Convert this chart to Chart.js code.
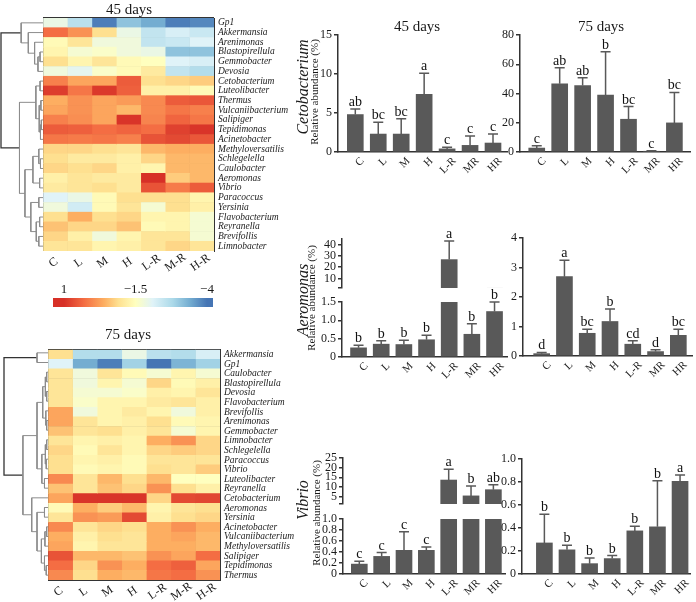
<!DOCTYPE html>
<html>
<head>
<meta charset="utf-8">
<script src="https://cdn.jsdelivr.net/npm/chart.js@4.4.1/dist/chart.umd.min.js"></script>
<style>
  body { margin: 0; background: #fff; }
  #wrap { position: relative; width: 696px; height: 602px; overflow: hidden; font-family: "Liberation Serif", "Times New Roman", serif; color: #1a1a1a; }
  #wrap canvas { position: absolute; }
  .t { position: absolute; white-space: nowrap; transform: translate(-50%, -50%); }
  .v { position: absolute; white-space: nowrap; transform: translate(-50%, -50%) rotate(-90deg); }
  .r { position: absolute; white-space: nowrap; line-height: 1; }
</style>
</head>
<body>
<div id="wrap"></div>
<script>
// ---- data ----
const heatCols = ['C', 'L', 'M', 'H', 'L-R', 'M-R', 'H-R'];

const taxa45 = ['Gp1', 'Akkermansia', 'Arenimonas', 'Blastopirellula', 'Gemmobacter', 'Devosia',
  'Cetobacterium', 'Luteolibacter', 'Thermus', 'Vulcaniibacterium', 'Salipiger', 'Tepidimonas',
  'Acinetobacter', 'Methyloversatilis', 'Schlegelella', 'Caulobacter', 'Aeromonas', 'Vibrio',
  'Paracoccus', 'Yersinia', 'Flavobacterium', 'Reyranella', 'Brevifollis', 'Limnobacter'];

const heat45 = [
  [-1.9, -2.6, -3.9, -3.1, -3.4, -3.9, -3.8],
  [0.3, -0.1, -0.9, -1.9, -2.5, -2.2, -2.4],
  [-1.4, -1.0, -1.8, -1.8, -2.5, -2.4, -2.1],
  [-1.3, -1.7, -1.6, -1.8, -1.9, -3.1, -3.1],
  [-0.9, -1.3, -1.0, -1.4, -1.5, -2.1, -2.2],
  [-1.8, -2.0, -1.6, -1.4, -1.1, -2.5, -2.7],
  [0.1, -0.3, -0.3, 0.5, -0.9, -0.8, -0.7],
  [0.85, 0.2, 0.9, 0.45, -1.2, -1.2, -1.4],
  [-0.4, -0.1, -0.3, -0.2, 0.0, 0.5, 0.55],
  [-0.3, -0.1, -0.3, -0.5, 0.0, 0.2, 0.1],
  [0.1, -0.05, -0.3, 0.95, 0.05, 0.4, 0.2],
  [0.5, 0.45, 0.3, 0.4, 0.3, 0.8, 0.95],
  [0.2, 0.15, 0.2, 0.1, 0.6, 0.7, 0.55],
  [-0.8, -0.8, -0.9, -1.0, -0.5, -0.4, -0.4],
  [-0.9, -1.1, -1.1, -1.2, -0.8, -0.5, -0.5],
  [-0.8, -0.9, -0.8, -1.2, -1.3, -0.5, -0.5],
  [-1.2, -1.0, -1.1, -1.1, 1.0, -0.7, -0.5],
  [-1.1, -1.0, -0.9, -1.1, 0.6, 0.15, 0.5],
  [-2.1, -1.9, -1.4, -0.9, -0.9, -0.9, -1.3],
  [-1.8, -2.3, -1.4, -1.0, -1.7, -0.9, -1.2],
  [-0.9, -0.4, -0.9, -0.8, -1.3, -1.3, -1.7],
  [-0.6, -0.8, -0.8, -0.6, -1.4, -1.3, -1.7],
  [-0.8, -1.2, -1.8, -1.3, -1.0, -1.0, -1.7],
  [-1.0, -1.0, -1.3, -1.2, -1.0, -0.8, -1.0]
];

const taxa75 = ['Akkermansia', 'Gp1', 'Caulobacter', 'Blastopirellula', 'Devosia', 'Flavobacterium',
  'Brevifollis', 'Arenimonas', 'Gemmobacter', 'Limnobacter', 'Schlegelella', 'Paracoccus', 'Vibrio',
  'Luteolibacter', 'Reyranella', 'Cetobacterium', 'Aeromonas', 'Yersinia', 'Acinetobacter',
  'Vulcaniibacterium', 'Methyloversatilis', 'Salipiger', 'Tepidimonas', 'Thermus'];

const heat75 = [
  [-0.9, -2.7, -2.7, -1.9, -2.6, -2.7, -2.2],
  [-2.1, -3.4, -3.9, -2.9, -4.0, -3.3, -2.9],
  [-1.0, -1.8, -1.0, -1.4, -1.7, -1.3, -1.7],
  [-1.0, -1.8, -1.3, -1.7, -0.8, -1.4, -1.2],
  [-1.0, -1.7, -1.7, -1.6, -1.2, -1.3, -1.0],
  [-1.0, -1.6, -1.3, -1.3, -1.1, -1.0, -1.2],
  [-0.3, -1.8, -1.3, -1.1, -1.3, -1.8, -1.2],
  [-0.3, -1.0, -1.3, -1.2, -0.9, -1.4, -1.3],
  [-0.6, -1.0, -0.9, -1.2, -1.0, -1.7, -1.3],
  [-1.0, -1.3, -1.2, -1.3, -0.4, -0.1, -0.8],
  [-0.8, -1.4, -1.0, -1.3, -0.8, -0.7, -0.8],
  [-0.9, -1.3, -1.2, -1.4, -1.0, -1.0, -1.0],
  [-0.9, -1.4, -1.3, -1.4, -0.9, -1.0, -0.7],
  [0.0, -1.0, -0.5, -0.9, -0.5, -1.5, -1.5],
  [-0.6, -1.0, -0.6, -0.8, -0.1, -0.9, -1.2],
  [-0.3, 0.95, 0.95, 0.95, -0.8, 0.7, 0.75],
  [-1.4, -0.4, -0.7, -0.5, -1.3, -1.0, -0.9],
  [-1.0, -0.1, -0.2, 0.7, -1.2, -0.9, -0.8],
  [0.0, -1.0, -0.8, -0.9, -0.4, -0.1, -0.4],
  [-0.4, -1.2, -0.9, -1.0, -0.4, -0.3, -0.5],
  [-0.3, -1.3, -1.0, -1.0, -0.4, -0.4, -0.5],
  [0.6, -0.5, -0.5, -0.6, -0.1, -0.3, 0.3],
  [0.3, -0.8, -0.1, -0.4, 0.3, 0.45, -0.3],
  [0.0, -0.9, -0.4, -0.5, 0.2, 0.3, -0.1]
];

// dendrograms: [height, left, right], leaves = row index
const tree45 = [1.0,
  [0.52, 0, [0.35, 1, [0.2, 2, [0.12, [0.07, 3, 4], 5]]]],
  [0.56,
    [0.17, [0.07, 6, 7], [0.09, [0.05, 8, 9], [0.06, [0.04, 10, 11], 12]]],
    [0.43,
      [0.24, [0.1, 13, [0.06, 14, 15]], [0.08, 16, 17]],
      [0.29, [0.1, 18, 19], [0.16, [0.08, 20, 21], [0.1, 22, 23]]]]]];

const tree75 = [1.0,
  [0.25, 0, 1],
  [0.57,
    [0.25, [0.12, [0.06, [0.03, 2, 3], [0.03, 4, 5]], [0.05, 6, [0.03, 7, 8]]],
      [0.14, [0.06, [0.03, 9, 10], [0.04, 11, 12]], [0.08, 13, 14]]],
    [0.37, 15, [0.25, [0.08, 16, 17],
      [0.15, [0.07, [0.03, 18, 19], 20], [0.08, 21, [0.04, 22, 23]]]]]]];

// colour key
const cbTicks = [1, -1.5, -4];
const cbTickLabels = ['1', '\u22121.5', '\u22124'];
const colorStops = [[1, '#d73027'], [0.3, '#f46d43'], [-0.4, '#fdae61'], [-0.9, '#fee090'],
  [-1.5, '#ffffbf'], [-2.1, '#e0f3f8'], [-2.8, '#abd9e9'], [-3.4, '#74add1'], [-4, '#4575b4']];

// bar panels
const groups = ['C', 'L', 'M', 'H', 'L-R', 'MR', 'HR'];

const ceto45Mean = [4.8, 2.3, 2.3, 7.4, 0.4, 0.85, 1.15];
const ceto45Err = [0.7, 1.5, 1.95, 2.7, 0.2, 1.2, 1.15];
const ceto45Sig = ['ab', 'bc', 'bc', 'a', 'c', 'c', 'c'];

const ceto75Mean = [2.7, 46.6, 45.5, 38.9, 22.4, 0.5, 19.9];
const ceto75Err = [1.6, 11.0, 5.3, 29.7, 8.7, 0.3, 20.8];
const ceto75Sig = ['c', 'ab', 'ab', 'b', 'bc', 'c', 'bc'];

const aero45Mean = [0.25, 0.35, 0.34, 0.47, 26.7, 0.62, 1.24];
const aero45Err = [0.07, 0.09, 0.12, 0.12, 16.5, 0.29, 0.26];
const aero45Sig = ['b', 'b', 'b', 'b', 'a', 'b', 'b'];

const aero75Mean = [0.08, 2.69, 0.77, 1.17, 0.4, 0.15, 0.7];
const aero75Err = [0.04, 0.56, 0.14, 0.42, 0.12, 0.06, 0.21];
const aero75Sig = ['d', 'a', 'bc', 'b', 'cd', 'd', 'bc'];

const vib45Mean = [0.18, 0.32, 0.43, 0.43, 13.6, 5.4, 8.6];
const vib45Err = [0.05, 0.07, 0.34, 0.06, 5.6, 5.1, 2.5];
const vib45Sig = ['c', 'c', 'c', 'c', 'a', 'b', 'ab'];

const vib75Mean = [0.27, 0.21, 0.09, 0.134, 0.375, 0.41, 0.805];
const vib75Err = [0.25, 0.04, 0.05, 0.026, 0.04, 0.40, 0.055];
const vib75Sig = ['b', 'b', 'b', 'b', 'b', 'b', 'a'];

// ---- helpers ----
const FONT = '"Liberation Serif", "Times New Roman", serif';
Chart.defaults.font.family = FONT;
Chart.defaults.color = '#1a1a1a';
Chart.defaults.animation = false;
Chart.defaults.responsive = false;
Chart.defaults.plugins.legend.display = false;
Chart.defaults.plugins.tooltip.enabled = false;

const wrap = document.getElementById('wrap');
const barColor = '#595959';
const axisColor = '#333';

function addCanvas(x, y, w, h) {
  const c = document.createElement('canvas');
  c.width = w; c.height = h;
  c.style.left = x + 'px'; c.style.top = y + 'px';
  c.style.width = w + 'px'; c.style.height = h + 'px';
  wrap.appendChild(c);
  return c;
}

function addText(txt, x, y, size, cls, italic) {
  const d = document.createElement('div');
  d.className = cls || 't';
  d.textContent = txt;
  d.style.left = x + 'px'; d.style.top = y + 'px';
  d.style.fontSize = size + 'px';
  if (italic) d.style.fontStyle = 'italic';
  wrap.appendChild(d);
  return d;
}

// rotated tick label; anchorRight: text ends at (x, y) like a slanted axis label
function addRotLabel(txt, x, y, size, angle, anchorRight) {
  const d = addText(txt, x, y, size, 'r');
  if (anchorRight) {
    d.style.transformOrigin = '100% 0';
    d.style.transform = 'translateX(-100%) rotate(' + angle + 'deg)';
  } else {
    d.style.transform = 'translate(-50%, -50%) rotate(' + angle + 'deg)';
  }
}

function hexRgb(h) {
  return [parseInt(h.slice(1, 3), 16), parseInt(h.slice(3, 5), 16), parseInt(h.slice(5, 7), 16)];
}

function heatColor(v) {
  if (v >= colorStops[0][0]) return colorStops[0][1];
  for (let i = 1; i < colorStops.length; i++) {
    const [v1, c1] = colorStops[i - 1], [v2, c2] = colorStops[i];
    if (v >= v2) {
      const t = (v1 - v) / (v1 - v2);
      const a = hexRgb(c1), b = hexRgb(c2);
      return 'rgb(' + a.map((x, k) => Math.round(x + (b[k] - x) * t)).join(',') + ')';
    }
  }
  return colorStops[colorStops.length - 1][1];
}

// ---- heatmaps ----
function makeHeat(box, taxa, values) {
  const c = addCanvas(box.x, box.y, box.w, box.h);
  const datasets = heatCols.map((col, j) => ({
    label: col,
    data: taxa.map(() => 1),
    backgroundColor: values.map(row => heatColor(row[j])),
    borderWidth: 0,
    barPercentage: 1,
    categoryPercentage: 1
  }));
  const chart = new Chart(c, {
    type: 'bar',
    data: { labels: taxa, datasets },
    options: {
      indexAxis: 'y',
      layout: { padding: { left: box.left, top: box.top, bottom: box.bottom, right: 0 } },
      scales: {
        x: {
          stacked: true, min: 0, max: 7, z: 1,
          ticks: { display: false, stepSize: 1 },
          grid: { color: axisColor, lineWidth: 1, drawTicks: false },
          border: { display: false },
          afterFit: s => { s.height = 0; }
        },
        y: {
          stacked: true, position: 'right', z: 1,
          grid: { color: axisColor, lineWidth: 1, drawTicks: false, offset: true },
          border: { color: axisColor },
          ticks: { font: { style: 'italic', size: 9.5 }, color: '#1a1a1a', padding: 4, autoSkip: false },
          afterFit: s => { s.width = box.labelW; }
        }
      }
    }
  });
  const xs = chart.scales.x;
  heatCols.forEach((col, i) => {
    addRotLabel(col, box.x + xs.getPixelForValue(i + 0.5) - 2, box.y + chart.chartArea.bottom + 11, 12, -35, false);
  });
}

function treeLines(node, out) {
  if (typeof node === 'number') return { h: 0, y: node + 0.5 };
  const [h, a, b] = node;
  const L = treeLines(a, out), R = treeLines(b, out);
  out.push({ h, pts: [{ x: L.h, y: L.y }, { x: h, y: L.y }, { x: h, y: R.y }, { x: R.h, y: R.y }] });
  return { h, y: (L.y + R.y) / 2 };
}

function makeTree(box, tree) {
  const c = addCanvas(box.x, box.y, box.w, box.h);
  const segs = [];
  treeLines(tree, segs);
  new Chart(c, {
    type: 'scatter',
    data: {
      datasets: segs.map(s => ({
        data: s.pts, showLine: true, pointRadius: 0, tension: 0, clip: false,
        borderColor: s.h >= 1 ? '#333' : '#8c8c8c', borderWidth: s.h >= 1 ? 1.3 : 1
      }))
    },
    options: {
      layout: { padding: box.pad },
      scales: {
        x: { type: 'linear', min: 0, max: 1, reverse: true, display: false },
        y: { type: 'linear', min: 0, max: 24, reverse: true, display: false }
      }
    }
  });
}

makeTree({ x: 0, y: 0, w: 44, h: 260, pad: { left: 1, right: 1, top: 18, bottom: 9 } }, tree45);
makeHeat({ x: 0, y: 0, w: 300, h: 275, left: 43, top: 18, bottom: 24, labelW: 86 }, taxa45, heat45);
makeTree({ x: 0, y: 340, w: 49, h: 250, pad: { left: 4, right: 1, top: 8, bottom: 10 } }, tree75);
makeHeat({ x: 0, y: 340, w: 300, h: 262, left: 48, top: 8, bottom: 22, labelW: 80 }, taxa75, heat75);

addText('45 days', 129, 9, 15);
addText('75 days', 128, 334, 15);

// colour key
const gradientPlugin = {
  id: 'grad',
  beforeDatasetsDraw(chart) {
    const { ctx, chartArea: a, scales: { x } } = chart;
    const g = ctx.createLinearGradient(a.left, 0, a.right, 0);
    colorStops.forEach(([v, col]) => {
      const p = (x.getPixelForValue(v) - a.left) / (a.right - a.left);
      g.addColorStop(Math.min(1, Math.max(0, p)), col);
    });
    ctx.save();
    ctx.fillStyle = g;
    ctx.fillRect(a.left, a.top, a.right - a.left, a.bottom - a.top);
    ctx.restore();
  }
};

const cbBox = { x: 40, y: 276 };
const cbChart = new Chart(addCanvas(cbBox.x, cbBox.y, 190, 36), {
  type: 'bar',
  data: { datasets: [] },
  options: {
    layout: { padding: { left: 13, right: 17, top: 22, bottom: 5 } },
    scales: {
      x: {
        type: 'linear', offset: false, reverse: true, min: -4.21, max: 1.385,
        ticks: { display: false }, grid: { display: false }, border: { display: false },
        afterFit: s => { s.height = 0; }
      },
      y: { display: false, min: 0, max: 1 }
    }
  },
  plugins: [gradientPlugin]
});
cbTicks.forEach((v, i) => {
  addText(cbTickLabels[i], cbBox.x + cbChart.scales.x.getPixelForValue(v), 289, 13);
});

// ---- bar panels ----
const errPlugin = {
  id: 'errs',
  afterDatasetsDraw(chart) {
    const { ctx, scales: { x, y } } = chart;
    const ds = chart.data.datasets[0];
    ctx.save();
    ctx.strokeStyle = barColor;
    ctx.lineWidth = 1.5;
    ctx.fillStyle = '#111';
    ctx.font = '14px ' + FONT;
    ctx.textAlign = 'center';
    ds.data.forEach((p, i) => {
      const top = p.y + ds.errs[i];
      const px = x.getPixelForValue(p.x);
      const lo = Math.max(p.y, y.min), hi = Math.min(top, y.max);
      if (hi > lo) {
        ctx.beginPath();
        ctx.moveTo(px, y.getPixelForValue(lo));
        ctx.lineTo(px, y.getPixelForValue(hi));
        if (top <= y.max) {
          const yt = y.getPixelForValue(top);
          ctx.moveTo(px - 5, yt);
          ctx.lineTo(px + 5, yt);
        }
        ctx.stroke();
      }
      const inRange = top <= y.max && (y.min === 0 || top > y.min);
      if (inRange) ctx.fillText(ds.sig[i], px, y.getPixelForValue(top) - 3);
    });
    ctx.restore();
  }
};

function makeBars(cfg) {
  const c = addCanvas(cfg.x, cfg.y, cfg.w, cfg.h);
  const yW = cfg.l - cfg.x;
  const top = cfg.t - cfg.y;
  const right = cfg.x + cfg.w - cfg.r;
  const bottom = cfg.y + cfg.h - cfg.b;
  const chart = new Chart(c, {
    type: 'bar',
    data: {
      datasets: [{
        data: cfg.means.map((v, i) => ({ x: i, y: v })),
        backgroundColor: barColor,
        barThickness: 16,
        clip: 0,
        errs: cfg.errs,
        sig: cfg.sig
      }]
    },
    options: {
      layout: { padding: { top, right, left: 0, bottom: cfg.showX ? 0 : bottom } },
      scales: {
        x: {
          type: 'linear', offset: false, min: cfg.xMin, max: cfg.xMax, display: cfg.showX,
          grid: { display: false },
          border: { color: axisColor, width: 1.5 },
          afterBuildTicks: s => { s.ticks = groups.map((g, i) => ({ value: i })); },
          ticks: { display: false },
          afterFit: s => { s.height = bottom; }
        },
        y: {
          min: cfg.min, max: cfg.max,
          afterBuildTicks: s => { s.ticks = cfg.ticks.map(v => ({ value: v })); },
          ticks: { callback: (v, i) => cfg.labels[i], font: { size: 12 }, color: '#1a1a1a', padding: 2, autoSkip: false },
          grid: { drawOnChartArea: false, tickLength: 4, color: axisColor, lineWidth: 1.5 },
          border: { color: axisColor, width: 1.5 },
          afterFit: s => { s.width = yW; }
        }
      }
    },
    plugins: [errPlugin]
  });
  if (cfg.showX) {
    const xs = chart.scales.x;
    groups.forEach((g, i) => {
      addRotLabel(g, cfg.x + xs.getPixelForValue(i) + 3, cfg.b + 3, 11, -45, true);
    });
  }
}

// Cetobacterium
makeBars({ x: 295, y: 0, w: 220, h: 200, l: 338, r: 507, t: 35, b: 152, showX: true,
  xMin: -0.754, xMax: 6.61, min: 0, max: 15, ticks: [0, 5, 10, 15], labels: ['0', '5', '10', '15'],
  means: ceto45Mean, errs: ceto45Err, sig: ceto45Sig });
makeBars({ x: 488, y: 0, w: 208, h: 200, l: 520, r: 690, t: 35, b: 152, showX: true,
  xMin: -0.73, xMax: 6.68, min: 0, max: 80, ticks: [0, 20, 40, 60, 80], labels: ['0', '20', '40', '60', '80'],
  means: ceto75Mean, errs: ceto75Err, sig: ceto75Sig });

// Aeromonas
makeBars({ x: 295, y: 200, w: 220, h: 100, l: 342, r: 507, t: 239, b: 294, showX: false,
  xMin: -0.73, xMax: 6.55, min: 1.5, max: 45, ticks: [1.5, 10, 20, 30, 40], labels: ['', '10', '20', '30', '40'],
  means: aero45Mean, errs: aero45Err, sig: aero45Sig });
makeBars({ x: 295, y: 240, w: 220, h: 160, l: 342, r: 507, t: 302, b: 357, showX: true,
  xMin: -0.73, xMax: 6.55, min: 0, max: 1.5, ticks: [0, 0.5, 1, 1.5], labels: ['0', '0.5', '1.0', '1.5'],
  means: aero45Mean, errs: aero45Err, sig: aero45Sig });
makeBars({ x: 488, y: 200, w: 208, h: 200, l: 523, r: 692, t: 238, b: 356, showX: true,
  xMin: -0.82, xMax: 6.6, min: 0, max: 4, ticks: [0, 1, 2, 3, 4], labels: ['0', '1', '2', '3', '4'],
  means: aero75Mean, errs: aero75Err, sig: aero75Sig });

// Vibrio
makeBars({ x: 295, y: 420, w: 220, h: 100, l: 343, r: 505, t: 458, b: 512, showX: false,
  xMin: -0.73, xMax: 6.52, min: 1.2, max: 25, ticks: [1.2, 5, 10, 15, 20, 25], labels: ['', '5', '10', '15', '20', '25'],
  means: vib45Mean, errs: vib45Err, sig: vib45Sig });
makeBars({ x: 295, y: 440, w: 220, h: 162, l: 343, r: 505, t: 519, b: 574, showX: true,
  xMin: -0.73, xMax: 6.52, min: 0, max: 1, ticks: [0, 0.2, 0.4, 0.6, 0.8, 1], labels: ['0', '0.2', '0.4', '0.6', '0.8', '1.0'],
  means: vib45Mean, errs: vib45Err, sig: vib45Sig });
makeBars({ x: 488, y: 420, w: 208, h: 182, l: 522, r: 690, t: 459, b: 574, showX: true,
  xMin: -0.99, xMax: 6.44, min: 0, max: 1, ticks: [0, 0.2, 0.4, 0.6, 0.8, 1], labels: ['0', '0.2', '0.4', '0.6', '0.8', '1.0'],
  means: vib75Mean, errs: vib75Err, sig: vib75Sig });

// titles and axis captions
addText('45 days', 417, 26, 15);
addText('75 days', 601, 26, 15);
addText('Cetobacterium', 303, 87, 16, 'v', true);
addText('Relative abundance (%)', 314, 92, 11, 'v');
addText('Aeromonas', 303, 300, 16, 'v', true);
addText('Relative abundance (%)', 311, 298, 11, 'v');
addText('Vibrio', 303, 500, 16, 'v', true);
addText('Relative abundance (%)', 316, 513, 11, 'v');
</script>
</body>
</html>
